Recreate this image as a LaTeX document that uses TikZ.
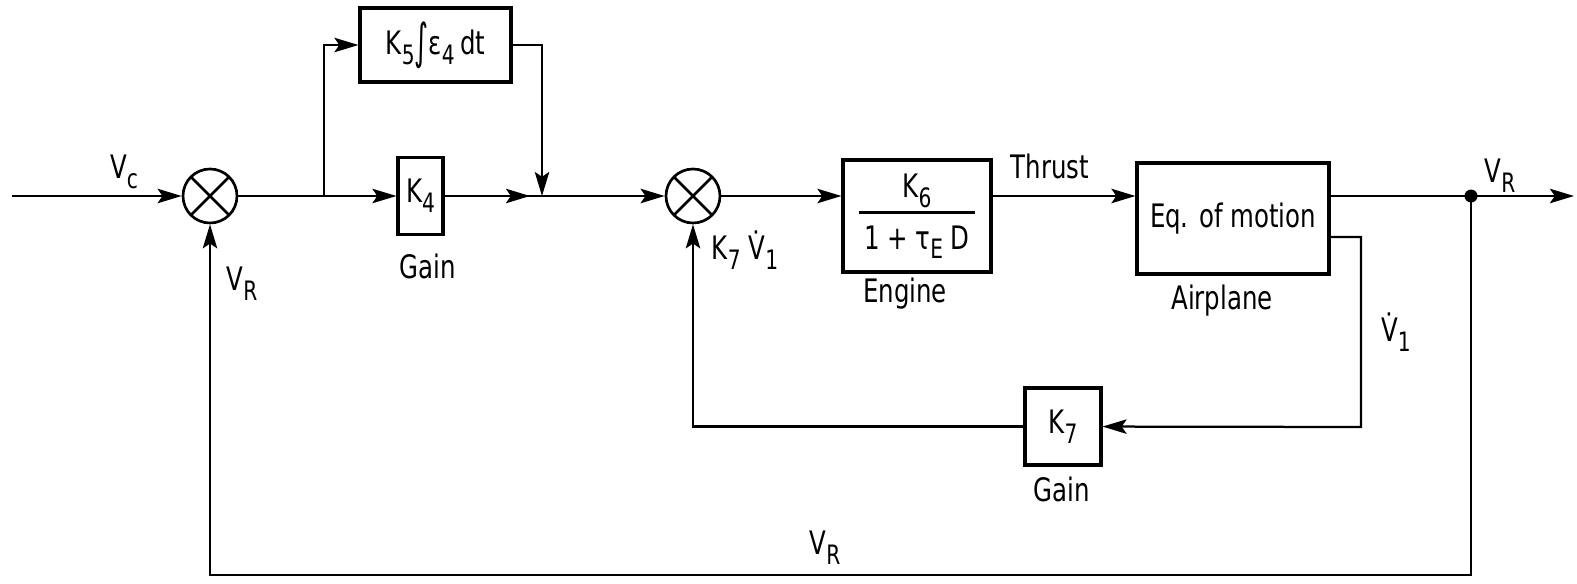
\documentclass[tikz,border=0pt]{standalone}
\usepackage{fontspec}
\setmainfont[FakeStretch=0.84]{DejaVu Sans Condensed}
\usepackage{tikz}
\usetikzlibrary{positioning,arrows.meta,calc}

\newcommand{\lo}[1]{\raisebox{-0.55ex}{\fontsize{19}{19}\selectfont #1}}
\newcommand{\bigint}{\raisebox{-0.12em}{\scalebox{1.1}[1.5]{∫}}}
\setlength{\arrayrulewidth}{1.6pt}

\begin{document}
\begin{tikzpicture}[x=0.25mm,y=-0.25mm,
  font=\fontsize{23}{26}\selectfont,
  line width=1.6pt,
  sig/.style={-{Stealth[length=6mm,width=3.6mm,inset=1.2mm]}},
  block/.style={draw,line width=2.2pt,inner sep=0pt,align=center},
  sumj/.style={circle,draw,line width=1.9pt,minimum size=13.5mm,inner sep=0pt,
    path picture={\draw[line width=1.9pt]
      (path picture bounding box.north west) -- (path picture bounding box.south east)
      (path picture bounding box.south west) -- (path picture bounding box.north east);}}]
\useasboundingbox (0,0) rectangle (1577,584);

% Summing junctions
\node[sumj] (sum1) at (210,196) {};
\node[sumj] (sum2) at (693,196) {};

% Blocks
\node[block,minimum width=37.75mm,minimum height=18.5mm] (k5) at (435.5,45) {K\lo{5}\bigint ε\lo{4}\,dt};
\node[block,minimum width=11.25mm,minimum height=19.25mm] (k4) at (420.5,196) {K\lo{4}};
\node[block,minimum width=37mm,minimum height=28mm] (eng) at (917,216)
  {\begin{tabular}{@{\,}c@{\,}}K\lo{6}\\[2pt]\hline\rule{0pt}{1.1em}1 + τ\lo{E} D\end{tabular}};
\node[block,minimum width=48mm,minimum height=27.75mm] (air) at (1233,218.5) {Eq. of motion};
\node[block,minimum width=19mm,minimum height=19.25mm] (k7) at (1063,426.5) {K\lo{7}};

% Connector points
\coordinate (in) at (12,196);
\coordinate (br) at (324,196);
\coordinate (jn) at (542,196);
\coordinate (tp) at (1471,196);
\coordinate (out) at (1574,196);
\coordinate (vd) at (1361,427);
\coordinate (bl) at (1471,575);

% Forward path
\draw[sig] (in) -- (sum1);
\draw (sum1) -- (br);
\draw[sig] (br) -- (k4);
\draw[sig] (br) |- (k5);
\draw[sig] (k5) -| (jn);
\draw (k4) -- (jn);
\draw[sig] (k4) -- ([xshift=-3mm]jn);
\draw[sig] (jn) -- (sum2);
\draw[sig] (sum2) -- (eng.west |- sum2);
\draw[sig] (eng.east |- sum2) -- (air.west |- sum2);
\draw (air.east |- sum2) -- (tp);
\draw[sig] (tp) -- (out);
\fill (tp) circle (6.5);

% Feedback paths
\draw[sig] ([yshift=-4.6mm]air.east) -| (vd) -- (k7);
\draw[sig] (k7) -| (sum2);
\draw[sig] (tp) -- (bl) -| (sum1);

% Labels
\node (lvc) at (124,172) {V\lo{c}};
\node (lvr1) at (242,284) {V\lo{R}};
\node (lg4) at (428,266) {Gain};
\node (lk7) at (745,250) {K\lo{7} V̇\lo{1}};
\node (leng) at (905,294) {Engine};
\node (lth) at (1050,166) {Thrust};
\node (lair) at (1222,301) {Airplane};
\node (lvr2) at (1500,176) {V\lo{R}};
\node (lvd) at (1396,332) {V̇\lo{1}};
\node (lg7) at (1062,489) {Gain};
\node (lvr3) at (825,548) {V\lo{R}};

\end{tikzpicture}
\end{document}
